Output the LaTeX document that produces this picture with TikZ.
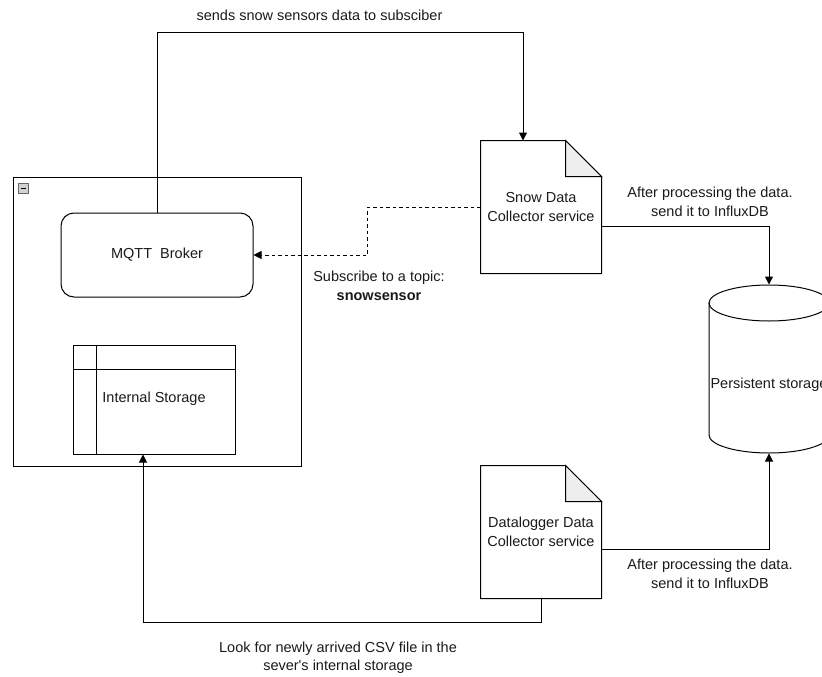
\documentclass[tikz,border=0pt]{standalone}
\usepackage{fontspec}
\setmainfont{Liberation Sans}
\usetikzlibrary{arrows.meta,calc}
\definecolor{txt}{HTML}{1A1A1A}
\definecolor{fold}{HTML}{EEEEEE}
\begin{document}
\begin{tikzpicture}[x=1pt,y=-1pt,
  font=\fontsize{14.5}{18.5}\selectfont, text=txt,
  line width=1pt,
  conn/.style={draw, -{Triangle[length=8pt,width=8pt]}},
  lbl/.style={align=center, inner sep=0pt},
  docbox/.style={minimum width=120pt, minimum height=132pt, align=center, inner sep=0pt}]
\useasboundingbox (0,0) rectangle (822,677);
% container
\node[draw, minimum width=288pt, minimum height=289pt, anchor=north west, inner sep=0pt] (cont) at (13,177) {};
\node[draw=gray!80!black, fill=gray!35, line width=0.6pt, minimum size=10pt, inner sep=0pt, anchor=north west] (minus) at (18,183) {};
\draw[line width=1.4pt] ($(minus.west)+(2.5,0)$) -- ($(minus.east)+(-2.5,0)$);
% MQTT broker
\node[draw, rounded corners=13pt, minimum width=192pt, minimum height=84pt] (mqtt) at (157,255) {MQTT\ \ Broker};
% internal storage
\node[draw, minimum width=162pt, minimum height=109pt, inner sep=0pt] (ist) at (154,399.5) {};
\draw ($(ist.north west)+(24,0)$) -- ($(ist.south west)+(24,0)$);
\draw ($(ist.north west)+(0,25)$) -- ($(ist.north east)+(0,25)$);
\node[lbl] (isttext) at (154,399) {Internal Storage};
% snow doc
\node[docbox] (snow) at (541,207) {Snow Data\\Collector service};
\draw (snow.north west) -- ($(snow.north east)+(-36,0)$) -- ($(snow.north east)+(0,36)$) -- (snow.south east) -- (snow.south west) -- cycle;
\draw[fill=fold] ($(snow.north east)+(-36,0)$) -- ($(snow.north east)+(-36,36)$) -- ($(snow.north east)+(0,36)$) -- cycle;
% datalogger doc
\node[docbox] (dl) at (541,532) {Datalogger Data\\Collector service};
\draw (dl.north west) -- ($(dl.north east)+(-36,0)$) -- ($(dl.north east)+(0,36)$) -- (dl.south east) -- (dl.south west) -- cycle;
\draw[fill=fold] ($(dl.north east)+(-36,0)$) -- ($(dl.north east)+(-36,36)$) -- ($(dl.north east)+(0,36)$) -- cycle;
% persistent storage cylinder
\node[minimum width=120pt, minimum height=168pt, inner sep=0pt] (ps) at (769,369) {};
\draw (709,303) -- (709,435) arc[start angle=180, end angle=360, x radius=60, y radius=-18] -- (829,303);
\draw (769,303) ellipse[x radius=60, y radius=18];
\node[lbl] (pstext) at (769,385) {Persistent storage};
% connectors
\coordinate (topy) at (0,33);
\coordinate (boty) at (0,622);
\draw[conn] (mqtt.north) -- (mqtt.north |- topy) -| ($(snow.north)+(-18,0)$);
\node[lbl] (l1) at (319.5,15) {sends snow sensors data to subsciber};
\draw[conn, dashed, dash pattern=on 3.5pt off 3pt] (snow.west) -- ++(-113,0) |- (mqtt.east);
\node[lbl] (l2) at (379,286) {Subscribe to a topic:\\\textbf{snowsensor}};
\draw[conn] ($(snow.east)+(0,19)$) -| (ps.north);
\node[lbl] (l3) at (710,202) {After processing the data.\\send it to InfluxDB};
\draw[conn] ($(dl.east)+(0,17)$) -| (ps.south);
\node[lbl] (l4) at (710,574) {After processing the data.\\send it to InfluxDB};
\draw[conn] (dl.south) -- (dl.south |- boty) -| ($(ist.south)+(-11,0)$);
\node[lbl] (l5) at (338,657.5) {Look for newly arrived CSV file in the\\sever\textquotesingle s internal storage};
\end{tikzpicture}
\end{document}
